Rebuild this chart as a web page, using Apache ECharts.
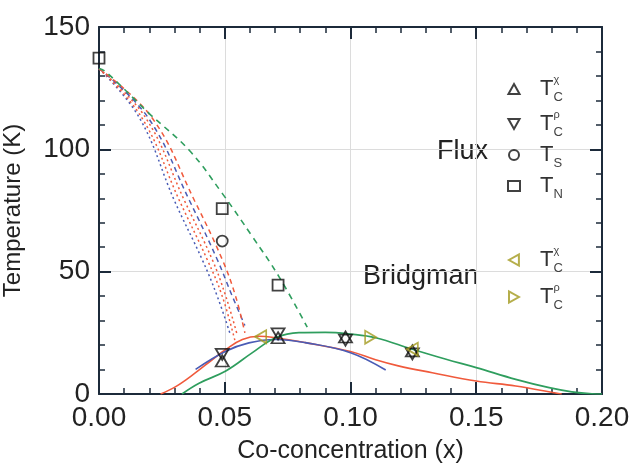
<!DOCTYPE html>
<html>
<head>
<meta charset="utf-8">
<script src="https://cdn.jsdelivr.net/npm/echarts@6/dist/echarts.min.js"></script>
<style>html,body{margin:0;padding:0;background:#fff}#c{width:633px;height:464px}</style>
</head>
<body>
<div id="c"></div>
<script>
// ---- Data ----
const xTicks = [0, 0.05, 0.10, 0.15, 0.20];
const yTicks = [0, 50, 100, 150];

// Flux markers (black)
const fluxTcChi = [[0.049, 13.5], [0.0712, 23.0], [0.098, 23.3], [0.1246, 17.6]];
const fluxTcRho = [[0.049, 16.2], [0.0712, 24.6], [0.098, 22.0], [0.1246, 16.4]];
const fluxTs = [[0.049, 62.5]];
const fluxTn = [[0.0, 137.3], [0.049, 75.8], [0.0712, 44.5]];
// Bridgman markers (olive)
const bridgTcChi = [[0.0643, 23.4], [0.1246, 18.3]];
const bridgTcRho = [[0.108, 23.2]];

// Solid curves
const greenSolid = [[0.033, 0], [0.0398, 4.4], [0.0504, 9.4], [0.061, 16.9], [0.0702, 23.0], [0.0795, 25.1], [0.090, 25.2], [0.100, 24.5], [0.110, 23.0], [0.1246, 18.3], [0.138, 14.2], [0.150, 10.8], [0.1657, 6.0], [0.179, 2.6], [0.188, 0.9], [0.196, 0.1], [0.2, 0]];
const redSolid = [[0.0245, 0], [0.0305, 3.0], [0.0384, 8.7], [0.045, 14.0], [0.0504, 18.2], [0.057, 22.3], [0.0636, 23.6], [0.0702, 23.0], [0.082, 21.0], [0.100, 17.4], [0.110, 14.0], [0.119, 11.5], [0.1325, 8.7], [0.150, 5.3], [0.1657, 3.3], [0.1816, 0.4], [0.184, 0]];
const blueSolid = [[0.0384, 10.1], [0.0504, 17.5], [0.0596, 20.9], [0.0702, 22.3], [0.082, 21.0], [0.100, 16.9], [0.114, 9.8]];

// Dashed / dotted extrapolations
const greenDashed = [[0.0, 133], [0.0027, 131.7], [0.0199, 114.7], [0.0358, 99.7], [0.049, 82.0], [0.061, 64.3], [0.0716, 47.9], [0.0828, 27.3]];
const blueDotted = [[0.0, 133], [0.016, 113], [0.030, 79], [0.041, 55], [0.047, 40], [0.052, 25]];
const redDotted1 = [[0.0, 133], [0.017, 113], [0.032, 79], [0.043, 55], [0.049, 40], [0.054, 22]];
const redDotted2 = [[0.0, 133], [0.0185, 113], [0.034, 79], [0.045, 55], [0.0504, 40], [0.055, 24]];
const blueDashed = [[0.0, 133], [0.0195, 113], [0.036, 79], [0.047, 55], [0.053, 40], [0.058, 28]];
const redDashed = [[0.0, 133], [0.021, 113], [0.038, 79], [0.049, 55], [0.0543, 40], [0.058, 25]];

// ---- Styles ----
const AX = '#1c2a3a';
const RED = '#f05a3c', BLUE = '#4a5cb5', GREEN = '#2f9e5e', OLIVE = '#a39a1e', BLK = '#111';
const FONT = 'Liberation Sans';

const legendText = {
  fTcChi: '{T|T}{sup|χ}{sub|C}',
  fTcRho: '{T|T}{sup|ρ}{sub|C}',
  fTs: '{T|T}{sub|S}',
  fTn: '{T|T}{sub|N}',
  bTcChi: '{T|T}{sup|χ}{sub|C}',
  bTcRho: '{T|T}{sup|ρ}{sub|C}'
};
const rich = {
  T: {fontSize: 22, fontFamily: FONT, color: '#333', lineHeight: 30, padding: [0, 0, 0, 15]},
  sup: {fontSize: 11, fontFamily: FONT, color: '#444', lineHeight: 12, verticalAlign: 'top', width: 0.1},
  sub: {fontSize: 13, fontFamily: FONT, color: '#444', lineHeight: 10, verticalAlign: 'bottom'}
};
const ICON_UP = 'path://M5,0 L10,9 L0,9 Z';
const ICON_DOWN = 'path://M0,0 L10,0 L5,9 Z';
const ICON_LEFT = 'path://M9,0 L9,10 L0,5 Z';
const ICON_RIGHT = 'path://M0,0 L0,10 L9,5 Z';

function curve(name, data, color, type, width) {
  return {
    name: name, type: 'line', data: data, smooth: 0.4, showSymbol: false, symbol: 'none',
    lineStyle: {color: color, width: width || 1.6, type: type}, z: 2, silent: true
  };
}
function marks(name, data, symbol, rot, color, size) {
  return {
    name: name, type: 'scatter', data: data, symbol: symbol, symbolRotate: rot, symbolSize: size,
    itemStyle: {color: 'rgba(0,0,0,0)', borderColor: color, borderWidth: 1.8}, z: 5, silent: true
  };
}

function axisCommon(extra) {
  return Object.assign({
    type: 'value',
    axisLine: {show: true, onZero: false, lineStyle: {color: AX, width: 2}},
    axisTick: {show: true, inside: true, length: 12, lineStyle: {color: AX, width: 2}},
    minorTick: {show: true, splitNumber: 5, length: 6, lineStyle: {color: AX, width: 1.5}},
    splitLine: {show: false}
  }, extra);
}

const chart = echarts.init(document.getElementById('c'));
chart.setOption({
  animation: false,
  textStyle: {fontFamily: FONT},
  grid: {left: 99, right: 31, top: 27, bottom: 70, containLabel: false, outerBoundsMode: 'none'},
  xAxis: [
    axisCommon({
      min: xTicks[0], max: xTicks[xTicks.length - 1], interval: 0.05, position: 'bottom',
      axisLabel: {formatter: v => v.toFixed(2), fontSize: 28, color: '#222', margin: 10, fontFamily: FONT},
      splitLine: {show: true, lineStyle: {color: '#dcdcdc', width: 1}},
      name: 'Co-concentration (x)', nameLocation: 'middle', nameGap: 45,
      nameTextStyle: {fontSize: 25, color: '#222', fontFamily: FONT}
    }),
    axisCommon({
      min: xTicks[0], max: xTicks[xTicks.length - 1], interval: 0.05, position: 'top',
      axisLabel: {show: false}
    })
  ],
  yAxis: [
    axisCommon({
      min: yTicks[0], max: yTicks[yTicks.length - 1], interval: 50, position: 'left',
      axisLabel: {fontSize: 28, color: '#222', margin: 9, fontFamily: FONT},
      splitLine: {show: true, lineStyle: {color: '#dcdcdc', width: 1}},
      name: 'Temperature (K)', nameLocation: 'middle', nameGap: 74, nameRotate: 90,
      nameTextStyle: {fontSize: 24, color: '#222', fontFamily: FONT}
    }),
    axisCommon({
      min: yTicks[0], max: yTicks[yTicks.length - 1], interval: 50, position: 'right',
      axisLabel: {show: false}
    })
  ],
  legend: [
    {
      data: [
        {name: 'fTcChi', icon: ICON_UP},
        {name: 'fTcRho', icon: ICON_DOWN},
        {name: 'fTs', icon: 'circle'},
        {name: 'fTn', icon: 'rect'}
      ],
      orient: 'vertical', left: 507, top: 74,
      itemWidth: 12, itemHeight: 10, itemGap: 5, padding: 0, selectedMode: false,
      formatter: n => legendText[n], textStyle: {rich: rich}
    },
    {
      data: [
        {name: 'bTcChi', icon: ICON_LEFT},
        {name: 'bTcRho', icon: ICON_RIGHT}
      ],
      orient: 'vertical', left: 508, top: 245,
      itemWidth: 12, itemHeight: 11, itemGap: 7, padding: 0, selectedMode: false,
      formatter: n => legendText[n], textStyle: {rich: rich}
    }
  ],
  graphic: [
    {type: 'text', left: 437, top: 138, style: {text: 'Flux', fontSize: 27, fontFamily: FONT, fill: '#222'}},
    {type: 'text', left: 363, top: 263, style: {text: 'Bridgman', fontSize: 27, fontFamily: FONT, fill: '#222'}}
  ],
  series: [
    curve('blueDotted', blueDotted, BLUE, [2, 3], 1.5),
    curve('redDotted1', redDotted1, RED, [2, 3], 1.5),
    curve('redDotted2', redDotted2, RED, [2, 3], 1.5),
    curve('blueDashed', blueDashed, BLUE, [5, 4], 1.5),
    curve('redDashed', redDashed, RED, [5, 4], 1.5),
    curve('greenDashed', greenDashed, GREEN, [6, 5], 1.6),
    curve('redSolid', redSolid, RED, 'solid', 1.6),
    curve('blueSolid', blueSolid, BLUE, 'solid', 1.6),
    curve('greenSolid', greenSolid, GREEN, 'solid', 1.7),
    marks('fTcChi', fluxTcChi, 'triangle', 0, BLK, [13, 11]),
    marks('fTcRho', fluxTcRho, 'triangle', 180, BLK, [13, 11]),
    marks('fTs', fluxTs, 'circle', 0, BLK, 11),
    marks('fTn', fluxTn, 'rect', 0, BLK, 11),
    marks('bTcChi', bridgTcChi, 'triangle', 90, OLIVE, [13, 11]),
    marks('bTcRho', bridgTcRho, 'triangle', -90, OLIVE, [13, 11])
  ]
});
</script>
</body>
</html>
